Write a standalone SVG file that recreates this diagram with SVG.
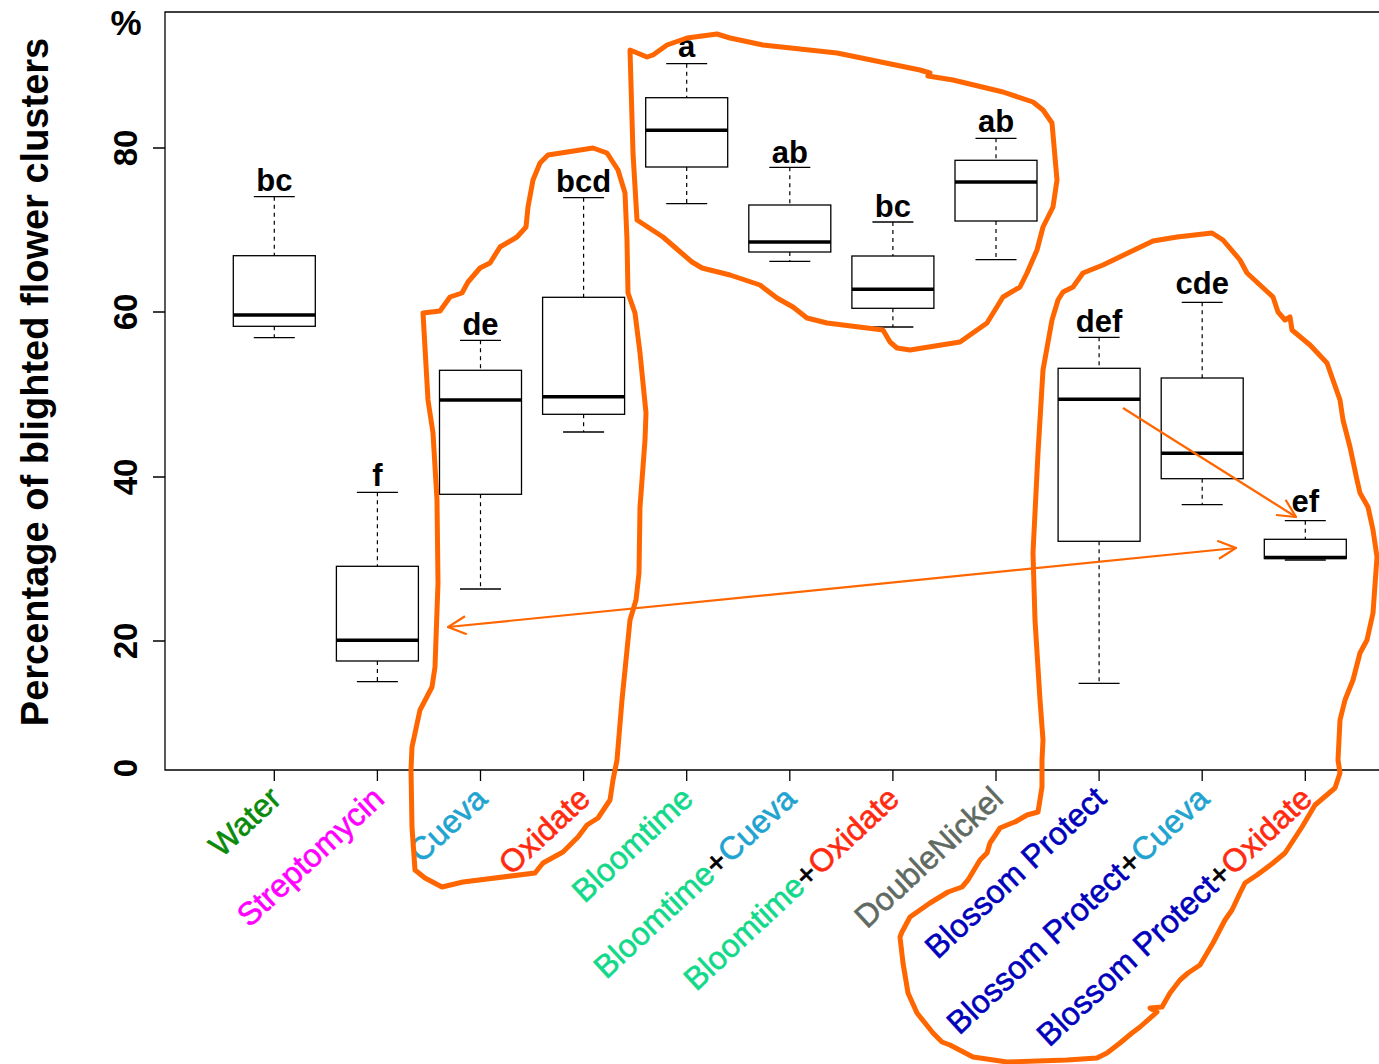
<svg xmlns="http://www.w3.org/2000/svg" width="1379" height="1064" viewBox="0 0 1379 1064">
<style>
.ax{stroke:#000;stroke-width:1.3;fill:none}
.bx{stroke:#000;stroke-width:1.3;fill:#fff}
.md{stroke:#000;stroke-width:3.5}
.wk{stroke:#000;stroke-width:1.2;stroke-dasharray:4 4}
.cp{stroke:#000;stroke-width:1.3}
.lt{font-family:"Liberation Sans",Arial,sans-serif;font-weight:bold;font-size:31px;text-anchor:middle;fill:#000}
.tk{font-family:"Liberation Sans",Arial,sans-serif;font-weight:bold;font-size:33px;text-anchor:middle;fill:#000}
.xl{font-family:"Liberation Sans",Arial,sans-serif;font-size:32px;text-anchor:end;stroke-width:0.6}
.ol{stroke:#ff6600;stroke-width:5;fill:none;stroke-linejoin:round;stroke-linecap:round}
.ar{stroke:#ff6600;stroke-width:2.2;fill:none}
.g{fill:#0a8a0a;stroke:#0a8a0a}.m{fill:#ff00ff;stroke:#ff00ff}.c{fill:#1fa3d0;stroke:#1fa3d0}.o{fill:#ff2a10;stroke:#ff2a10}.b{fill:#12d98a;stroke:#12d98a}.n{fill:#5f6b62;stroke:#5f6b62}.p{fill:#0000bb;stroke:#0000bb}.k{fill:#000;stroke:#000}
</style>
<defs>
<marker id="ah" viewBox="0 0 20 20" refX="19" refY="10" markerWidth="20" markerHeight="20" markerUnits="userSpaceOnUse" orient="auto-start-reverse">
<path d="M1,1 L19,10 L1,19" fill="none" stroke="#ff6600" stroke-width="2.2"/>
</marker>
</defs>
<rect width="1379" height="1064" fill="#fff"/>
<g id="axes">
<path class="ax" d="M1379,12 H165 V770 H1379"/>
<path class="ax" d="M153,148 H165 M153,312 H165 M153,477 H165 M153,641 H165"/>
<path class="ax" d="M274.3,770 V781 M377.4,770 V781 M480.5,770 V781 M583.6,770 V781 M686.7,770 V781 M789.8,770 V781 M892.9,770 V781 M996,770 V781 M1099.1,770 V781 M1202.2,770 V781 M1305.3,770 V781"/>
<text class="tk" transform="translate(137,148) rotate(-90)">80</text>
<text class="tk" transform="translate(137,312) rotate(-90)">60</text>
<text class="tk" transform="translate(137,477) rotate(-90)">40</text>
<text class="tk" transform="translate(137,641) rotate(-90)">20</text>
<text class="tk" transform="translate(137,768) rotate(-90)">0</text>
<text class="tk" x="126" y="35" style="font-size:35px">%</text>
<text class="tk" transform="translate(48,382) rotate(-90)" style="font-size:38px">Percentage of blighted flower clusters</text>
</g>
<g id="box-water">
<line class="wk" x1="274.3" y1="196.7" x2="274.3" y2="255.7"/><line class="wk" x1="274.3" y1="326.3" x2="274.3" y2="337.7"/>
<line class="cp" x1="253.8" y1="196.7" x2="294.8" y2="196.7"/><line class="cp" x1="253.8" y1="337.7" x2="294.8" y2="337.7"/>
<rect class="bx" x="233.3" y="255.7" width="82" height="70.6"/><line class="md" x1="233.3" y1="315" x2="315.3" y2="315"/>
<text class="lt" x="274.3" y="191">bc</text>
</g>
<g id="box-streptomycin">
<line class="wk" x1="377.4" y1="492.3" x2="377.4" y2="566.3"/><line class="wk" x1="377.4" y1="661" x2="377.4" y2="681.7"/>
<line class="cp" x1="356.9" y1="492.3" x2="397.9" y2="492.3"/><line class="cp" x1="356.9" y1="681.7" x2="397.9" y2="681.7"/>
<rect class="bx" x="336.4" y="566.3" width="82" height="94.7"/><line class="md" x1="336.4" y1="640.3" x2="418.4" y2="640.3"/>
<text class="lt" x="377.4" y="486">f</text>
</g>
<g id="box-cueva">
<line class="wk" x1="480.5" y1="340.3" x2="480.5" y2="370.3"/><line class="wk" x1="480.5" y1="494.3" x2="480.5" y2="589"/>
<line class="cp" x1="460" y1="340.3" x2="501" y2="340.3"/><line class="cp" x1="460" y1="589" x2="501" y2="589"/>
<rect class="bx" x="439.5" y="370.3" width="82" height="124"/><line class="md" x1="439.5" y1="400" x2="521.5" y2="400"/>
<text class="lt" x="480.5" y="335">de</text>
</g>
<g id="box-oxidate">
<line class="wk" x1="583.6" y1="197.7" x2="583.6" y2="297.3"/><line class="wk" x1="583.6" y1="414.3" x2="583.6" y2="432"/>
<line class="cp" x1="563.1" y1="197.7" x2="604.1" y2="197.7"/><line class="cp" x1="563.1" y1="432" x2="604.1" y2="432"/>
<rect class="bx" x="542.6" y="297.3" width="82" height="117"/><line class="md" x1="542.6" y1="396.7" x2="624.6" y2="396.7"/>
<text class="lt" x="583.6" y="192">bcd</text>
</g>
<g id="box-bloomtime">
<line class="wk" x1="686.7" y1="63.7" x2="686.7" y2="97.7"/><line class="wk" x1="686.7" y1="167" x2="686.7" y2="203.7"/>
<line class="cp" x1="666.2" y1="63.7" x2="707.2" y2="63.7"/><line class="cp" x1="666.2" y1="203.7" x2="707.2" y2="203.7"/>
<rect class="bx" x="645.7" y="97.7" width="82" height="69.3"/><line class="md" x1="645.7" y1="130.3" x2="727.7" y2="130.3"/>
<text class="lt" x="686.7" y="57">a</text>
</g>
<g id="box-bloomtime-cueva">
<line class="wk" x1="789.8" y1="167.3" x2="789.8" y2="205"/><line class="wk" x1="789.8" y1="252" x2="789.8" y2="261.3"/>
<line class="cp" x1="769.3" y1="167.3" x2="810.3" y2="167.3"/><line class="cp" x1="769.3" y1="261.3" x2="810.3" y2="261.3"/>
<rect class="bx" x="748.8" y="205" width="82" height="47"/><line class="md" x1="748.8" y1="242" x2="830.8" y2="242"/>
<text class="lt" x="789.8" y="163">ab</text>
</g>
<g id="box-bloomtime-oxidate">
<line class="wk" x1="892.9" y1="222" x2="892.9" y2="256"/><line class="wk" x1="892.9" y1="308.3" x2="892.9" y2="327"/>
<line class="cp" x1="872.4" y1="222" x2="913.4" y2="222"/><line class="cp" x1="872.4" y1="327" x2="913.4" y2="327"/>
<rect class="bx" x="851.9" y="256" width="82" height="52.3"/><line class="md" x1="851.9" y1="289.3" x2="933.9" y2="289.3"/>
<text class="lt" x="892.9" y="217">bc</text>
</g>
<g id="box-doublenickel">
<line class="wk" x1="996" y1="138.3" x2="996" y2="160.3"/><line class="wk" x1="996" y1="221" x2="996" y2="259.7"/>
<line class="cp" x1="975.5" y1="138.3" x2="1016.5" y2="138.3"/><line class="cp" x1="975.5" y1="259.7" x2="1016.5" y2="259.7"/>
<rect class="bx" x="955" y="160.3" width="82" height="60.7"/><line class="md" x1="955" y1="182" x2="1037" y2="182"/>
<text class="lt" x="996" y="132">ab</text>
</g>
<g id="box-blossom-protect">
<line class="wk" x1="1099.1" y1="337.3" x2="1099.1" y2="368.3"/><line class="wk" x1="1099.1" y1="541.3" x2="1099.1" y2="683.3"/>
<line class="cp" x1="1078.6" y1="337.3" x2="1119.6" y2="337.3"/><line class="cp" x1="1078.6" y1="683.3" x2="1119.6" y2="683.3"/>
<rect class="bx" x="1058.1" y="368.3" width="82" height="173"/><line class="md" x1="1058.1" y1="399.3" x2="1140.1" y2="399.3"/>
<text class="lt" x="1099.1" y="332">def</text>
</g>
<g id="box-blossom-protect-cueva">
<line class="wk" x1="1202.2" y1="302.3" x2="1202.2" y2="378"/><line class="wk" x1="1202.2" y1="478.7" x2="1202.2" y2="504.7"/>
<line class="cp" x1="1181.7" y1="302.3" x2="1222.7" y2="302.3"/><line class="cp" x1="1181.7" y1="504.7" x2="1222.7" y2="504.7"/>
<rect class="bx" x="1161.2" y="378" width="82" height="100.7"/><line class="md" x1="1161.2" y1="453.3" x2="1243.2" y2="453.3"/>
<text class="lt" x="1202.2" y="294">cde</text>
</g>
<g id="box-blossom-protect-oxidate">
<line class="wk" x1="1305.3" y1="520.7" x2="1305.3" y2="539.3"/>
<line class="cp" x1="1284.8" y1="520.7" x2="1325.8" y2="520.7"/><line class="cp" x1="1284.8" y1="560" x2="1325.8" y2="560"/>
<rect class="bx" x="1264.3" y="539.3" width="82" height="19.2"/><line class="md" x1="1264.3" y1="557.5" x2="1346.3" y2="557.5"/>
<text class="lt" x="1305.3" y="512">ef</text>
</g>
<g id="x-labels">
<text class="xl" transform="translate(283,801) rotate(-43)"><tspan class="g">Water</tspan></text>
<text class="xl" transform="translate(386,801) rotate(-43)"><tspan class="m">Streptomycin</tspan></text>
<text class="xl" transform="translate(489,801) rotate(-43)"><tspan class="c">Cueva</tspan></text>
<text class="xl" transform="translate(592,801) rotate(-43)"><tspan class="o">Oxidate</tspan></text>
<text class="xl" transform="translate(695,801) rotate(-43)"><tspan class="b">Bloomtime</tspan></text>
<text class="xl" transform="translate(798,801) rotate(-43)"><tspan class="b">Bloomtime</tspan><tspan class="k">+</tspan><tspan class="c">Cueva</tspan></text>
<text class="xl" transform="translate(901,801) rotate(-43)"><tspan class="b">Bloomtime</tspan><tspan class="k">+</tspan><tspan class="o">Oxidate</tspan></text>
<text class="xl" transform="translate(1005,801) rotate(-43)"><tspan class="n">DoubleNickel</tspan></text>
<text class="xl" transform="translate(1108,801) rotate(-43)"><tspan class="p">Blossom Protect</tspan></text>
<text class="xl" transform="translate(1211,801) rotate(-43)"><tspan class="p">Blossom Protect</tspan><tspan class="k">+</tspan><tspan class="c">Cueva</tspan></text>
<text class="xl" transform="translate(1314,801) rotate(-43)"><tspan class="p">Blossom Protect</tspan><tspan class="k">+</tspan><tspan class="o">Oxidate</tspan></text>
</g>
<g id="outlines">
<path id="outline-cueva-oxidate" class="ol" d="M423,313 L440,311 L450,297 L462,293 L468,282 L480,268 L490,263 L500,247 L517,237 L526,227 L528,207 L533,180 L540,163 L548,155 L593,148 L607,153 L618,170 L625,193 L627,240 L628,293 L635,313 L640,353 L646,413 L645,440 L640,507 L639,573 L636,600 L630,620 L627,650 L624,680 L622,700 L617,760 L613,780 L610,800 L598,818 L587,825 L578,837 L563,852 L543,863 L535,873 L463,882 L442,887 L425,878 L415,870 L412,827 L411,770 L412,747 L420,710 L432,687 L435,667 L438,583 L437,500 L433,433 L428,400 Z"/>
<path id="outline-bloomtime" class="ol" d="M630,50 L647,57 L653,55 L667,45 L687,38 L717,34 L730,38 L763,45 L837,53 L920,70 L930,73 L928,76 L953,80 L1003,92 L1033,102 L1043,110 L1052,123 L1057,180 L1053,207 L1043,227 L1037,250 L1027,273 L1020,287 L1003,297 L987,323 L960,342 L910,350 L897,348 L890,342 L883,330 L827,323 L807,318 L793,307 L777,298 L760,285 L730,275 L702,268 L692,262 L678,250 L663,237 L637,220 L633,153 Z"/>
<path id="outline-blossom" class="ol" d="M1063,292 L1073,287 L1083,273 L1103,265 L1130,252 L1153,241 L1177,237 L1212,233 L1223,240 L1240,260 L1247,273 L1273,297 L1278,312 L1285,320 L1290,317 L1292,330 L1310,345 L1327,363 L1340,400 L1343,420 L1350,447 L1357,480 L1360,493 L1368,507 L1373,530 L1377,557 L1373,613 L1367,640 L1360,653 L1353,680 L1345,700 L1340,720 L1338,760 L1340,773 L1335,788 L1315,805 L1302,827 L1285,853 L1273,863 L1257,875 L1245,883 L1240,893 L1232,910 L1225,920 L1213,943 L1200,965 L1188,973 L1180,980 L1170,993 L1162,1007 L1150,1008 L1157,1012 L1140,1027 L1132,1033 L1120,1043 L1107,1053 L1097,1058 L1067,1060 L1007,1062 L973,1057 L950,1045 L942,1042 L933,1033 L917,1013 L908,993 L903,963 L900,937 L902,932 L910,917 L930,903 L948,892 L962,887 L968,880 L980,860 L987,853 L990,843 L1000,828 L1012,823 L1015,822 L1027,815 L1038,812 L1042,787 L1042,760 L1043,740 L1040,700 L1035,620 L1033,553 L1038,453 L1043,370 L1052,320 L1058,300 Z"/>
</g>
<g id="connectors">
<line class="ar" x1="448" y1="627" x2="1236" y2="548" marker-start="url(#ah)" marker-end="url(#ah)"/>
<line class="ar" x1="1123" y1="408" x2="1296" y2="517" marker-end="url(#ah)"/>
</g>
</svg>
